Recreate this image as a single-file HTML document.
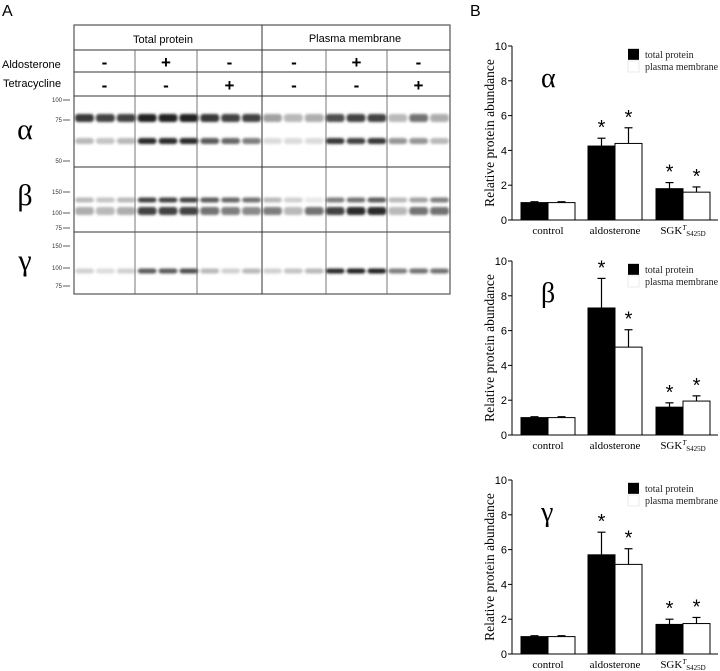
<!DOCTYPE html>
<html><head><meta charset="utf-8">
<style>
html,body{margin:0;padding:0;background:#fff;width:720px;height:671px;overflow:hidden}
svg{display:block}
.sans{font-family:"Liberation Sans",sans-serif}
.serif{font-family:"Liberation Serif",serif}
</style></head>
<body>
<svg id="fig" width="720" height="671" viewBox="0 0 720 671">
<defs>
<filter id="blur" x="-20%" y="-100%" width="140%" height="300%"><feGaussianBlur stdDeviation="1.4 1.2"/></filter>
</defs>
<text x="2" y="16" class="sans" font-size="16">A</text>
<text x="470" y="16" class="sans" font-size="16">B</text>
<g id="blot"></g>
<g id="charts"></g>
</svg>
<script>
const NS="http://www.w3.org/2000/svg";
function mk(t,a,p){const e=document.createElementNS(NS,t);for(const k in a)e.setAttribute(k,a[k]);p.appendChild(e);return e;}

// ===== Blot panel =====
const blot=document.getElementById('blot');
const colX=[74,135,197,262,326,387,450];
const rowY=[25,50,72,96,167,232,294];
// band intensities per lane (18 lanes)
const laneW=(262-74)/9;
const bands=[
 {y:118,h:8,v:[.85,.8,.8,.95,.95,.95,.85,.8,.8, .4,.3,.35,.75,.8,.8,.3,.6,.35]},
 {y:141,h:6,v:[.3,.25,.3,.9,.9,.9,.7,.65,.55, .15,.15,.15,.85,.8,.85,.45,.45,.3]},
 {y:200,h:5,v:[.3,.25,.3,.8,.8,.8,.7,.65,.6, .3,.2,.1,.55,.6,.7,.3,.4,.55]},
 {y:211,h:8,v:[.35,.3,.35,.8,.8,.8,.6,.55,.5, .55,.3,.6,.8,.9,.9,.3,.6,.6]},
 {y:271,h:5,v:[.2,.15,.2,.7,.7,.75,.3,.2,.3, .2,.25,.3,.9,.95,.95,.55,.6,.6]}
];
const bg=mk('g',{filter:'url(#blur)'},blot);
bands.forEach(b=>{
  b.v.forEach((v,i)=>{
    const x=74+(i<9?i*laneW:188+(i-9)*laneW)+1;
    const gv=Math.round(255*(1-v*0.92));
    const r=mk('rect',{x:x,y:b.y-b.h/2,width:laneW-2,height:b.h,rx:3,fill:`rgb(${gv},${gv},${gv})`},bg);
    
    
  });
});
// table lines
mk('rect',{x:74,y:25,width:376,height:269,fill:'none',stroke:'#555','stroke-width':1.2},blot);
rowY.slice(1,-1).forEach(y=>mk('line',{x1:74,x2:450,y1:y,y2:y,stroke:'#333','stroke-width':1},blot));
mk('line',{x1:262,x2:262,y1:25,y2:294,stroke:'#333','stroke-width':1},blot);
[135,197,326,387].forEach(x=>mk('line',{x1:x,x2:x,y1:50,y2:294,stroke:'#555','stroke-width':0.8},blot));
let t=mk('text',{x:163,y:43,'text-anchor':'middle','font-size':11,class:'sans'},blot);t.textContent='Total protein';

t=mk('text',{x:355,y:42,'text-anchor':'middle','font-size':11,class:'sans'},blot);t.textContent='Plasma membrane';

t=mk('text',{x:2,y:68,'font-size':11,class:'sans'},blot);t.textContent='Aldosterone';

t=mk('text',{x:3,y:87,'font-size':11,class:'sans'},blot);t.textContent='Tetracycline';

const aldo=['-','+','-','-','+','-'], tet=['-','-','+','-','-','+'];
for(let i=0;i<6;i++){
  const cx=(colX[i]+colX[i+1])/2;
  let a=mk('text',{x:cx,y:68,'text-anchor':'middle','font-size':17,'font-weight':'bold',class:'sans'},blot);a.textContent=aldo[i];
  
  let b=mk('text',{x:cx,y:91,'text-anchor':'middle','font-size':17,'font-weight':'bold',class:'sans'},blot);b.textContent=tet[i];
  
}
[['α',25,139],['β',25,205],['γ',25,270]].forEach(g=>{
  const e=mk('text',{x:g[1],y:g[2],'text-anchor':'middle','font-size':30,class:'serif'},blot);e.textContent=g[0];
  
});
const markers=[['100',100],['75',120],['50',161],['150',192],['100',213],['75',228],['150',246],['100',268],['75',286]];
markers.forEach(m=>{
  const e=mk('text',{x:62,y:m[1]+2,'text-anchor':'end','font-size':6,class:'sans',fill:'#333'},blot);e.textContent=m[0];
  
  mk('line',{x1:63,x2:70,y1:m[1],y2:m[1],stroke:'#333','stroke-width':0.8},blot);
});

// ===== Bar charts =====
const categories=['control','aldosterone','SGK'];
const alphaTotal=[1,4.25,1.8], alphaTotalErr=[0.05,0.45,0.35];
const alphaPM=[1,4.4,1.6], alphaPMErr=[0.05,0.9,0.3];
const betaTotal=[1,7.3,1.6], betaTotalErr=[0.05,1.7,0.25];
const betaPM=[1,5.05,1.95], betaPMErr=[0.05,1.0,0.3];
const gammaTotal=[1,5.7,1.7], gammaTotalErr=[0.05,1.3,0.3];
const gammaPM=[1,5.15,1.75], gammaPMErr=[0.05,0.9,0.35];
const stars=[false,true,true];
const yTicks=[0,2,4,6,8,10];

const charts=document.getElementById('charts');
function chart(name,greek,y0,tot,totE,pm,pmE){
  const g=mk('g',{},charts);
  
  
  const ax=512, plotH=174, xEnd=718;
  const yS=v=>y0-v/10*plotH;
  const centers=[548,615,683], bw=27;
  mk('line',{x1:ax,x2:ax,y1:yS(10),y2:y0,stroke:'#000','stroke-width':1},g);
  mk('line',{x1:ax,x2:xEnd,y1:y0,y2:y0,stroke:'#000','stroke-width':1},g);
  yTicks.forEach(v=>{
    mk('line',{x1:ax-4,x2:ax,y1:yS(v),y2:yS(v),stroke:'#000'},g);
    const e=mk('text',{x:ax-5,y:yS(v)+4,'text-anchor':'end','font-size':11,class:'sans'},g);e.textContent=v;
    
  });
  const yl=mk('text',{x:0,y:0,'text-anchor':'middle','font-size':13.5,class:'serif',transform:`translate(494,${y0-plotH/2}) rotate(-90)`},g);
  yl.textContent='Relative protein abundance';
  
  const gl=mk('text',{x:541,y:y0-133,'font-size':28,class:'serif'},g);gl.textContent=greek;
  
  mk('rect',{x:628,y:yS(9.55)-5,width:11,height:11,fill:'#000'},g);
  mk('rect',{x:628,y:yS(8.85)-5,width:11,height:11,fill:'#fff',stroke:'#ddd','stroke-width':0.6},g);
  let l=mk('text',{x:645,y:yS(9.55)+4,'font-size':10,class:'serif',fill:'#222'},g);l.textContent='total protein';
  
  l=mk('text',{x:645,y:yS(8.85)+4,'font-size':10,class:'serif',fill:'#222'},g);l.textContent='plasma membrane';
  
  categories.forEach((c,i)=>{
    [[tot,totE,'#000',-bw],[pm,pmE,'#fff',0]].forEach((s,j)=>{
      const v=s[0][i], e=s[1][i], x=centers[i]+s[3];
      mk('line',{x1:x+bw/2,x2:x+bw/2,y1:yS(v),y2:yS(v+e),stroke:'#000','stroke-width':1.2},g);
      mk('line',{x1:x+bw/2-4,x2:x+bw/2+4,y1:yS(v+e),y2:yS(v+e),stroke:'#000','stroke-width':1.2},g);
      const r=mk('rect',{x:x,y:yS(v),width:bw,height:y0-yS(v),fill:s[2],stroke:'#000','stroke-width':1},g);
      
      
      if(stars[i]){
        const st=mk('text',{x:x+bw/2,y:yS(v+e)-4,'text-anchor':'middle','font-size':20,class:'sans'},g);st.textContent='*';
        
      }
    });
    const lbl=mk('text',{x:centers[i],y:y0+14,'text-anchor':'middle','font-size':11,class:'serif'},g);
    if(c==='SGK'){
      lbl.innerHTML='SGK<tspan dy="-4" font-size="7" font-style="italic">T</tspan><tspan dy="6" font-size="7">S425D</tspan>';
    } else lbl.textContent=c;
    
  });
}
chart('alpha','α',220,alphaTotal,alphaTotalErr,alphaPM,alphaPMErr);
chart('beta','β',435,betaTotal,betaTotalErr,betaPM,betaPMErr);
chart('gamma','γ',654,gammaTotal,gammaTotalErr,gammaPM,gammaPMErr);
</script>
</body></html>
